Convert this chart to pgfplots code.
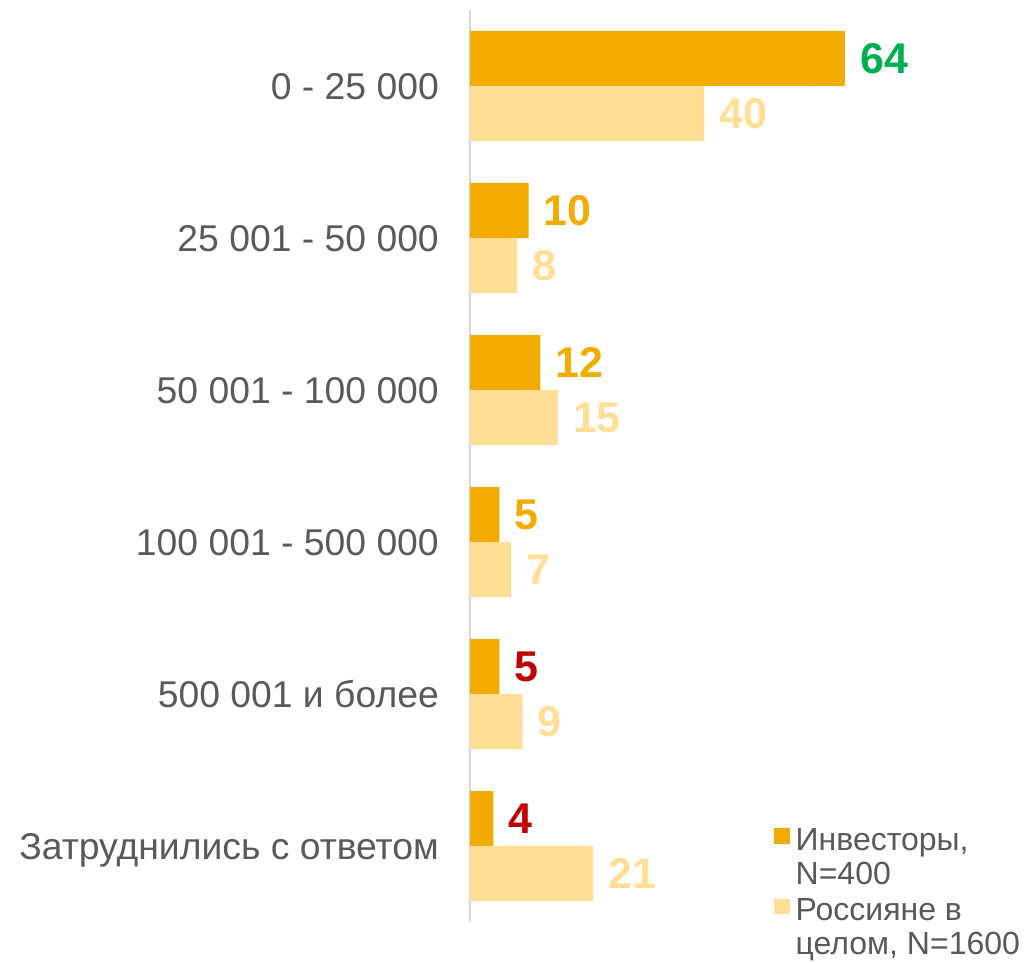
\documentclass[border=0pt]{standalone}
\usepackage{fontspec}
\setmainfont{Liberation Sans}
\usepackage{pgfplots}
\usepackage{pgfplotstable}
\pgfplotsset{compat=1.18}
\definecolor{cdark}{HTML}{F2AC00}
\definecolor{clight}{HTML}{FFDF96}
\definecolor{cgreen}{HTML}{00B050}
\definecolor{cred}{HTML}{C00000}
\definecolor{cgray}{HTML}{595959}
\definecolor{caxis}{HTML}{D9D9D9}

\pgfplotstableread{
y x c
5 64 1
4 10 2
3 12 2
2 5 2
1 5 3
0 4 3
}\investors
\pgfplotstableread{
y x
5 40
4 8
3 15
2 7
1 9
0 21
}\russians

\begin{document}
\begin{tikzpicture}
\path[use as bounding box] (0,0) rectangle (1027pt,962pt);
\begin{axis}[
  at={(470pt,40pt)}, anchor=south west,
  scale only axis, width=527.3pt, height=912pt,
  xmin=0, xmax=90, ymin=-0.5, ymax=5.5,
  xbar, bar width=55pt,
  axis x line=none,
  axis y line*=left,
  y axis line style={draw=caxis, line width=2pt},
  ytick={0,1,2,3,4,5},
  yticklabels={Затруднились с ответом, 500 001 и более, 100 001 - 500 000, 50 001 - 100 000, 25 001 - 50 000, 0 - 25 000},
  major tick length=0pt,
  ytick style={draw=none},
  yticklabel style={font=\fontsize{37.3}{40}\selectfont, text=cgray, anchor=base east, inner sep=0pt, xshift=-31pt, yshift=-13.3pt},
  legend style={at={(0.5765,0.1050)}, anchor=north west, draw=none, fill=none, inner sep=0pt, outer sep=0pt,
    font=\fontsize{32}{34}\selectfont, text=cgray, row sep=45pt, column sep=6pt,
    nodes={inner sep=0pt}},
  legend cell align=left,
  clip=false,
]
\addplot[fill=cdark, draw=none, bar shift=27.5pt,
  point meta=explicit symbolic,
  visualization depends on={\thisrow{c} \as \lc},
  nodes near coords={\pgfmathtruncatemacro{\lci}{\lc}\ifcase\lci\or\color{cgreen}\or\color{cdark}\or\color{cred}\fi\pgfplotspointmeta},
  nodes near coords style={font=\fontsize{43}{43}\selectfont\bfseries, anchor=west, inner sep=0pt, xshift=15pt},
  legend image code/.code={\fill[cdark] (0pt,-5pt) rectangle (15.7pt,10.5pt);}
] table[x=x, y=y, meta=x]{\investors};
\addlegendentry{\begin{tabular}[t]{@{}l@{}}Инвесторы,\\N=400\end{tabular}}
\addplot[fill=clight, draw=none, bar shift=-27.5pt,
  point meta=explicit symbolic,
  nodes near coords,
  nodes near coords style={font=\fontsize{43}{43}\selectfont\bfseries, text=clight, anchor=west, inner sep=0pt, xshift=15pt},
  legend image code/.code={\fill[clight] (0pt,-5pt) rectangle (15.7pt,10.5pt);}
] table[x=x, y=y, meta=x]{\russians};
\addlegendentry{\begin{tabular}[t]{@{}l@{}}Россияне в\\целом, N=1600\end{tabular}}
\end{axis}
\end{tikzpicture}
\end{document}
